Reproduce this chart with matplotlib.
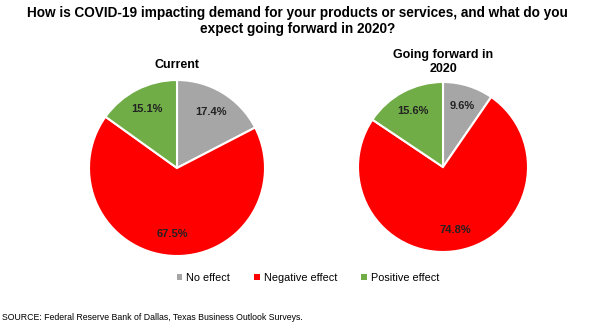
import matplotlib
matplotlib.use("Agg")
import matplotlib.pyplot as plt
from matplotlib.patches import Patch

plt.rcParams['font.family'] = ['Liberation Sans', 'DejaVu Sans']

categories = ["No effect", "Negative effect", "Positive effect"]
current = [17.4, 67.5, 15.1]
forward = [9.6, 74.8, 15.6]
panel_titles = ["Current", "Going forward in\n2020"]
colors = ["#A6A6A6", "#FF0000", "#70AD47"]

W, H = 595, 333
fig = plt.figure(figsize=(W/100, H/100), dpi=100)

def add_pie(cx, cy, r, values, title, title_y):
    ax = fig.add_axes([(cx - r)/W, (H - cy - r)/H, 2*r/W, 2*r/H])
    ax.pie(values, colors=colors, startangle=90, counterclock=False,
           autopct=lambda p: f"{p:.1f}%", pctdistance=0.75,
           wedgeprops=dict(edgecolor="white", linewidth=1.5),
           textprops=dict(fontsize=8, fontweight="bold", color="#222222"))
    ax.set_xlim(-1, 1)
    ax.set_ylim(-1, 1)
    ax.set_aspect("equal")
    fig.text(cx/W, 1 - title_y/H, title, ha="center", va="center",
             fontsize=9, fontweight="bold", linespacing=1.15)
    return ax

add_pie(177, 168, 88, current, panel_titles[0], 65)
add_pie(443, 167, 85, forward, panel_titles[1], 62)

fig.text(0.5, 1 - 21/H, "How is COVID-19 impacting demand for your products or services, and what do you\nexpect going forward in 2020?",
         ha="center", va="center", fontsize=9.8, fontweight="bold", linespacing=1.25)

handles = [Patch(facecolor=c, edgecolor="none") for c in colors]
fig.legend(handles, categories, loc="center", bbox_to_anchor=(308/W, 1 - 278/H),
           ncol=3, frameon=False, fontsize=7.8, handlelength=0.5, handleheight=0.5,
           columnspacing=2.2, handletextpad=0.4)

fig.text(2/W, 1 - 317/H, "SOURCE: Federal Reserve Bank of Dallas, Texas Business Outlook Surveys.",
         ha="left", va="center", fontsize=6.3)

fig.savefig("out.png", dpi=100, facecolor="white")
